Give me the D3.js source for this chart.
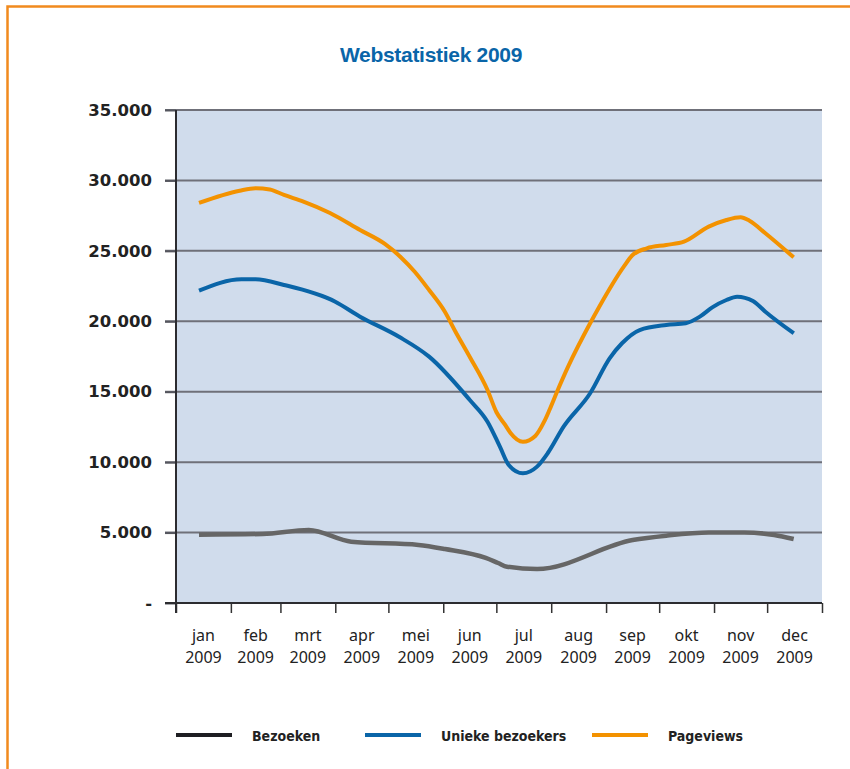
<!DOCTYPE html>
<html>
<head>
<meta charset="utf-8">
<script src="https://cdn.jsdelivr.net/npm/d3@7"></script>
<style>
  body { margin: 0; background: #fff; }
  svg { display: block; }
</style>
</head>
<body>
<div id="chart"></div>
<script>
// month categories and tick labels
const monthLabels = ["jan", "feb", "mrt", "apr", "mei", "jun", "jul", "aug", "sep", "okt", "nov", "dec"];
const yearLabel = "2009";
const yTickValues = [0, 5000, 10000, 15000, 20000, 25000, 30000, 35000];

// series values
const bezoekenDates = ["2009-01-14", "2009-02-19", "2009-03-17", "2009-04-10", "2009-05-18", "2009-06-02",
  "2009-06-25", "2009-07-02", "2009-07-07", "2009-07-24", "2009-09-16", "2009-10-05", "2009-10-29",
  "2009-11-18", "2009-12-05", "2009-12-16"];
const bezoekenValues = [4850, 4900, 5180, 4350, 4120, 3830, 3200, 2840, 2580, 2410, 4470, 4780, 5000, 5000, 4830, 4540];

const uniekeDates = ["2009-01-14", "2009-02-07", "2009-02-15", "2009-03-03", "2009-04-01", "2009-04-15",
  "2009-05-07", "2009-05-24", "2009-06-16", "2009-06-26", "2009-07-03", "2009-07-08", "2009-07-16",
  "2009-07-24", "2009-07-30", "2009-08-08", "2009-08-23", "2009-09-03", "2009-09-10", "2009-09-20",
  "2009-10-05", "2009-10-16", "2009-10-24", "2009-10-31", "2009-11-08", "2009-11-14", "2009-11-23",
  "2009-11-30", "2009-12-16"];
const uniekeValues = [22170, 22980, 22980, 22580, 21390, 20330, 18900, 17490, 14410, 12870, 11100, 9800, 9210,
  9680, 10630, 12520, 14890, 17370, 18440, 19380, 19740, 19860, 20330, 20990, 21510, 21750, 21440, 20680, 19150];

const pageviewsDates = ["2009-01-14", "2009-02-06", "2009-02-15", "2009-02-23", "2009-03-03", "2009-03-14",
  "2009-03-29", "2009-04-15", "2009-04-29", "2009-05-08", "2009-05-16", "2009-05-24", "2009-06-02",
  "2009-06-08", "2009-06-16", "2009-06-26", "2009-07-01", "2009-07-06", "2009-07-09", "2009-07-16",
  "2009-07-23", "2009-07-28", "2009-07-31", "2009-08-04", "2009-08-11", "2009-08-23", "2009-08-28",
  "2009-09-11", "2009-09-16", "2009-09-24", "2009-10-05", "2009-10-15", "2009-10-29", "2009-11-08",
  "2009-11-16", "2009-11-21", "2009-11-30", "2009-12-16"];
const pageviewsValues = [28400, 29270, 29440, 29360, 28970, 28500, 27690, 26480, 25490, 24550, 23500, 22220, 20660,
  19240, 17470, 15120, 13560, 12640, 12070, 11450, 11860, 12870, 13700, 14910, 16900, 19860, 21000,
  23880, 24710, 25180, 25420, 25650, 26720, 27190, 27380, 27140, 26250, 24540];

const seriesNames = ["Bezoeken", "Unieke bezoekers", "Pageviews"];
const seriesColors = ["#666666", "#0a65a8", "#f39200"];
const legendColors = ["#1e1e22", "#0a65a8", "#f39200"];

const parseDate = d3.timeParse("%Y-%m-%d");
const series = [
  { name: seriesNames[0], dates: bezoekenDates, values: bezoekenValues, width: 4.5 },
  { name: seriesNames[1], dates: uniekeDates, values: uniekeValues, width: 4 },
  { name: seriesNames[2], dates: pageviewsDates, values: pageviewsValues, width: 4 }
].map((s, i) => ({
  ...s,
  color: seriesColors[i],
  points: s.dates.map((d, j) => ({ date: parseDate(d), value: s.values[j] }))
}));

const size = { width: 850, height: 769 };
const margin = { top: 110, right: 28, bottom: 166, left: 176 };
const width = size.width - margin.left - margin.right;
const height = size.height - margin.top - margin.bottom;

const svg = d3.select("#chart").append("svg")
  .attr("width", size.width)
  .attr("height", size.height);

// orange frame
svg.append("rect")
  .attr("x", 7.5).attr("y", 6.5)
  .attr("width", 900).attr("height", 900)
  .attr("fill", "none")
  .attr("stroke", "#f18a1e")
  .attr("stroke-width", 2.5);

// title
svg.append("text")
  .attr("x", 431).attr("y", 62)
  .attr("text-anchor", "middle")
  .style("font-family", "'Liberation Sans', Arial, sans-serif")
  .style("font-weight", "bold")
  .style("font-size", "21px")
  .style("letter-spacing", "-0.3px")
  .attr("fill", "#0a65a8")
  .text("Webstatistiek 2009");

const g = svg.append("g")
  .attr("transform", "translate(" + margin.left + "," + margin.top + ")");

const xScale = d3.scaleTime()
  .domain([new Date(2009, 0, 1), new Date(2010, 0, 1)])
  .range([0, width]);
const yScale = d3.scaleLinear()
  .domain([0, 35000])
  .range([height, 0]);

// plot background
g.append("rect")
  .attr("width", width).attr("height", height)
  .attr("fill", "#d0dcec");

// gridlines
g.append("g").selectAll("line")
  .data(yTickValues.filter(v => v > 0))
  .join("line")
  .attr("x1", -11).attr("x2", width)
  .attr("y1", d => yScale(d)).attr("y2", d => yScale(d))
  .attr("stroke", "#6f7079")
  .attr("stroke-width", 2);

// y axis
const nl = d3.formatLocale({ decimal: ",", thousands: ".", grouping: [3], currency: ["€", ""] });
const yAxis = d3.axisLeft(yScale)
  .tickValues(yTickValues)
  .tickSize(11)
  .tickPadding(13)
  .tickFormat(d => d === 0 ? "-" : nl.format(",")(d));
const yAxisG = g.append("g").attr("class", "yAxisG").call(yAxis);
yAxisG.select(".domain").remove();
yAxisG.selectAll(".tick line").attr("stroke", "#55565e").attr("stroke-width", 2);
yAxisG.selectAll(".tick text")
  .style("font-family", "'DejaVu Sans', sans-serif")
  .style("font-weight", "bold")
  .style("font-size", "16.5px")
  .attr("fill", "#222");

// x axis with month boundary ticks
const monthStarts = d3.timeMonth.range(new Date(2009, 0, 1), new Date(2010, 0, 2));
const xAxis = d3.axisBottom(xScale)
  .tickValues(monthStarts)
  .tickSize(10)
  .tickFormat("");
const xAxisG = g.append("g").attr("class", "xAxisG")
  .attr("transform", "translate(0," + height + ")")
  .call(xAxis);
xAxisG.select(".domain").remove();
xAxisG.selectAll(".tick line").attr("stroke", "#333").attr("stroke-width", 1.5);

g.append("line")
  .attr("x1", -11).attr("x2", width)
  .attr("y1", height).attr("y2", height)
  .attr("stroke", "#2c2c30").attr("stroke-width", 2);
g.append("line")
  .attr("x1", 0).attr("x2", 0)
  .attr("y1", 0).attr("y2", height + 10)
  .attr("stroke", "#2c2c30").attr("stroke-width", 2);

// month labels, centred in each month
const labelG = g.append("g")
  .style("font-family", "'Noto Sans', sans-serif")
  .style("font-size", "16px")
  .attr("fill", "#222");
monthLabels.forEach((m, i) => {
  const mid = (xScale(monthStarts[i]) + xScale(monthStarts[i + 1])) / 2;
  const t = labelG.append("text")
    .attr("text-anchor", "middle")
    .attr("x", mid)
    .attr("y", height + 38);
  t.append("tspan").attr("x", mid).text(m);
  t.append("tspan").attr("x", mid).attr("dy", 22).text(yearLabel);
});

// lines
const line = d3.line()
  .x(d => xScale(d.date))
  .y(d => yScale(d.value))
  .curve(d3.curveMonotoneX);

g.append("g").selectAll("path")
  .data(series)
  .join("path")
  .attr("fill", "none")
  .attr("stroke", d => d.color)
  .attr("stroke-width", d => d.width)
  .attr("stroke-linejoin", "round")
  .attr("d", d => line(d.points));

// legend
const legendX = [176, 365, 592];
const legend = svg.append("g")
  .selectAll("g")
  .data(seriesNames)
  .join("g")
  .attr("transform", (d, i) => "translate(" + legendX[i] + ",735)");
legend.append("line")
  .attr("x1", 0).attr("x2", 56)
  .attr("stroke", (d, i) => legendColors[i])
  .attr("stroke-width", 4);
legend.append("text")
  .attr("x", 76).attr("y", 5.5)
  .style("font-family", "'DejaVu Sans Condensed', 'DejaVu Sans', sans-serif")
  .style("font-stretch", "condensed")
  .style("font-weight", "bold")
  .style("font-size", "14px")
  .attr("fill", "#222")
  .text(d => d);
</script>
</body>
</html>
